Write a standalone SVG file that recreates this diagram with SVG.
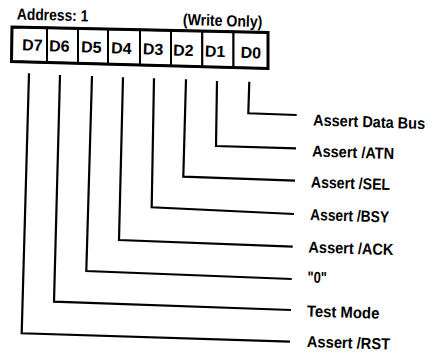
<svg xmlns="http://www.w3.org/2000/svg" width="436" height="356" viewBox="0 0 436 356">
<style>
text{font-family:"Liberation Sans",Arial,sans-serif;font-weight:bold;fill:#000}
.cell{fill:#fff;stroke:#000;stroke-width:2}
.frame{fill:none;stroke:#000;stroke-width:3;stroke-linejoin:miter}
.bit{font-size:16px;text-anchor:middle}
.lbl{font-size:16px}
.wire{fill:none;stroke:#000;stroke-width:2.2;stroke-linejoin:miter}
</style>
<rect width="436" height="356" fill="#fff"/>
<g id="title">
<text class="lbl" x="16.7" y="19.5" textLength="71.6" lengthAdjust="spacingAndGlyphs" transform="rotate(1.5 16.7 19.5)">Address: 1</text>
<text class="lbl" x="182.7" y="25" textLength="79.6" lengthAdjust="spacingAndGlyphs" transform="rotate(1.5 182.7 25)">(Write Only)</text>
</g>
<g id="register">
<g id="bit-d7"><polygon class="cell" points="12,27 47,27.75 47,62.46 11.5,61.5"/><text class="bit" x="32.2" y="50.5" transform="rotate(1.8 32.2 50.5)">D7</text></g>
<g id="bit-d6"><polygon class="cell" points="47,27.75 78,28.42 78,63.3 47,62.46"/><text class="bit" x="59.2" y="51.5" transform="rotate(1.8 59.2 51.5)">D6</text></g>
<g id="bit-d5"><polygon class="cell" points="78,28.42 108,29.06 108,64.1 78,63.3"/><text class="bit" x="91.2" y="52.6" transform="rotate(1.8 91.2 52.6)">D5</text></g>
<g id="bit-d4"><polygon class="cell" points="108,29.06 140,29.75 140,65 108,64.1"/><text class="bit" x="121.2" y="53.6" transform="rotate(1.8 121.2 53.6)">D4</text></g>
<g id="bit-d3"><polygon class="cell" points="140,29.75 171,30.42 171,65.85 140,65"/><text class="bit" x="153" y="54.7" transform="rotate(1.8 153 54.7)">D3</text></g>
<g id="bit-d2"><polygon class="cell" points="171,30.42 202.3,31.09 202.3,66.7 171,65.85"/><text class="bit" x="183.3" y="55.8" transform="rotate(1.8 183.3 55.8)">D2</text></g>
<g id="bit-d1"><polygon class="cell" points="202.3,31.09 233.5,31.76 233.5,67.56 202.3,66.7"/><text class="bit" x="215" y="56.8" transform="rotate(1.8 215 56.8)">D1</text></g>
<g id="bit-d0"><polygon class="cell" points="233.5,31.76 268,32.5 268,68.5 233.5,67.56"/><text class="bit" x="250.8" y="58.2" transform="rotate(1.8 250.8 58.2)">D0</text></g>
<polygon class="frame" points="12,27 268,32.5 268,68.5 11.5,61.5"/>
</g>
<g id="connectors">
<polyline class="wire" points="249.3,81.7 248.3,113.3 296.7,115"/>
<polyline class="wire" points="217,81 216,146 296,148.3"/>
<polyline class="wire" points="186,79.3 183.3,176.7 295,180.7"/>
<polyline class="wire" points="154,78.3 151.7,207.3 294,214"/>
<polyline class="wire" points="123,77.3 119,240 292.7,246.7"/>
<polyline class="wire" points="92,76 86.3,271 291.7,279"/>
<polyline class="wire" points="60,75 54,301.7 291,310"/>
<polyline class="wire" points="29,73.3 21.7,333.3 290,341.7"/>
</g>
<g id="label-d0"><text class="lbl" x="313" y="125.5" textLength="112" lengthAdjust="spacingAndGlyphs" transform="rotate(1.8 313 125.5)">Assert Data Bus</text></g>
<g id="label-d1"><text class="lbl" x="312" y="156.5" textLength="82" lengthAdjust="spacingAndGlyphs" transform="rotate(1.8 312 156.5)">Assert /ATN</text></g>
<g id="label-d2"><text class="lbl" x="310.7" y="187.5" textLength="79.3" lengthAdjust="spacingAndGlyphs" transform="rotate(1.8 310.7 187.5)">Assert /SEL</text></g>
<g id="label-d3"><text class="lbl" x="310" y="220" textLength="79" lengthAdjust="spacingAndGlyphs" transform="rotate(1.8 310 220)">Assert /BSY</text></g>
<g id="label-d4"><text class="lbl" x="308.3" y="252.5" textLength="85" lengthAdjust="spacingAndGlyphs" transform="rotate(1.8 308.3 252.5)">Assert /ACK</text></g>
<g id="label-d5"><text class="lbl" x="307.3" y="282.5" textLength="19.4" lengthAdjust="spacingAndGlyphs" transform="rotate(1.8 307.3 282.5)">"0"</text></g>
<g id="label-d6"><text class="lbl" x="306.7" y="316.5" textLength="72.6" lengthAdjust="spacingAndGlyphs" transform="rotate(1.8 306.7 316.5)">Test Mode</text></g>
<g id="label-d7"><text class="lbl" x="306.7" y="347" textLength="83.3" lengthAdjust="spacingAndGlyphs" transform="rotate(1.8 306.7 347)">Assert /RST</text></g>
</svg>
